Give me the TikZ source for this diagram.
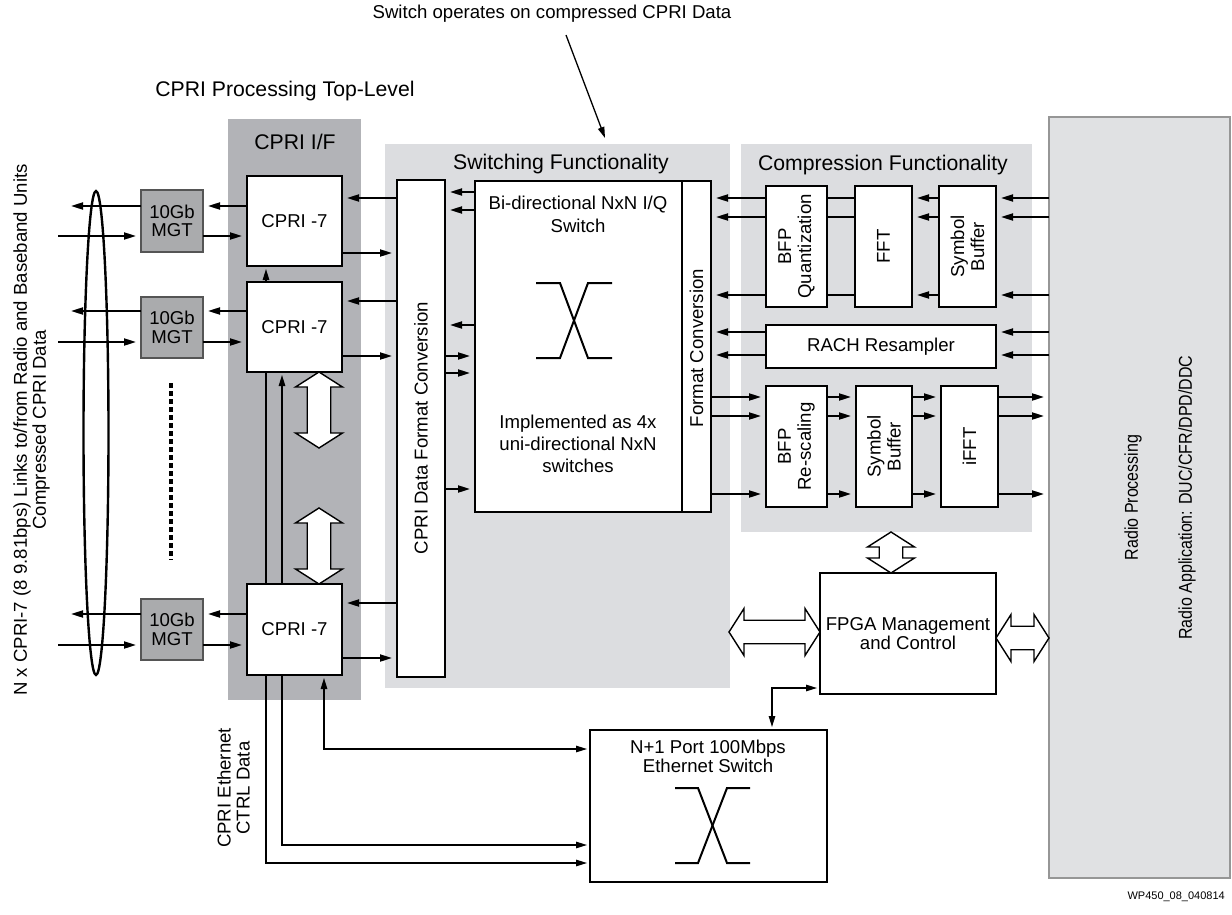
\documentclass[tikz,border=0pt]{standalone}
\usepackage{fontspec}
\setmainfont{Liberation Sans}
\newfontfamily\narrowfont[FakeStretch=0.86]{Liberation Sans}
\usetikzlibrary{arrows.meta,calc}
\definecolor{cpribg}{RGB}{178,179,183}
\definecolor{lightbg}{RGB}{220,221,224}
\definecolor{mgtfill}{RGB}{170,171,173}
\definecolor{mgtline}{RGB}{85,85,85}
\definecolor{radiofill}{RGB}{224,225,227}
\definecolor{radioline}{RGB}{150,150,150}
\newcommand{\fsN}{\fontsize{18.6}{20}\selectfont}
\newcommand{\fsH}{\fontsize{21.2}{24}\selectfont}
\newcommand{\hollowV}[2]{%
  \draw[hollow] let \p1=#1, \p2=#2 in
   (\x1,\y1) -- (\x1+23.5pt,\y1-15pt) -- (\x1+11.75pt,\y1-15pt) -- (\x1+11.75pt,\y2+15pt)
   -- (\x1+23.5pt,\y2+15pt) -- (\x1,\y2) -- (\x1-23.5pt,\y2+15pt) -- (\x1-11.75pt,\y2+15pt)
   -- (\x1-11.75pt,\y1-15pt) -- (\x1-23.5pt,\y1-15pt) -- cycle;}
\newcommand{\hollowH}[2]{%
  \draw[hollow] let \p1=#1, \p2=#2 in
   (\x1,\y1) -- (\x1+15pt,\y1+23.5pt) -- (\x1+15pt,\y1+11.75pt) -- (\x2-15pt,\y1+11.75pt)
   -- (\x2-15pt,\y1+23.5pt) -- (\x2,\y1) -- (\x2-15pt,\y1-23.5pt) -- (\x2-15pt,\y1-11.75pt)
   -- (\x1+15pt,\y1-11.75pt) -- (\x1+15pt,\y1-23.5pt) -- cycle;}
\pgfdeclarelayer{back}
\pgfdeclarelayer{mid}
\pgfsetlayers{back,mid,main}
\begin{document}
\begin{tikzpicture}[x=1pt,y=-1pt,
  bgnode/.style={inner sep=0,outer sep=0,draw=none},
  box/.style={draw,line width=2.6pt,fill=white,inner sep=0,outer sep=0,font=\fsN,align=center},
  mgtbox/.style={draw=mgtline,line width=2pt,fill=mgtfill,inner sep=0,outer sep=0,font=\fontsize{18.6}{18.5}\selectfont,align=center},
  arr/.style={line width=2pt,-{Triangle[length=12pt,width=7pt]},shorten >=5pt},
  conn/.style={line width=2pt},
  thinarr/.style={line width=1.3pt,{Triangle[length=11pt,width=6.5pt]}-{Triangle[length=11pt,width=6.5pt]},shorten >=3pt,shorten <=3pt},
  hollow/.style={draw,line width=1.4pt,fill=white,line join=miter},
  xsym/.style={line width=2pt},
  txt/.style={font=\fsN,align=center,inner sep=0},
  hdr/.style={font=\fsH,inner sep=0},
]
\useasboundingbox (0,0) rectangle (1232,915);

% backgrounds
\begin{pgfonlayer}{back}
\node[bgnode,fill=cpribg,minimum width=133pt,minimum height=581pt] (cpribg) at (294.5,409.5) {};
\node[bgnode,fill=lightbg,minimum width=345pt,minimum height=544pt] (swbg) at (557.5,416) {};
\node[bgnode,fill=lightbg,minimum width=291pt,minimum height=388pt] (compbg) at (886.5,338) {};
\node[draw=radioline,line width=1.6pt,fill=radiofill,inner sep=0,outer sep=0,minimum width=181pt,minimum height=761pt] (radio) at (1139.5,497.5) {};
\end{pgfonlayer}

% ellipse and dots
\draw[line width=2.4pt] (96,433) ellipse [x radius=12.5pt, y radius=242pt];
\draw[line width=4pt, dash pattern=on 4.5pt off 3.5pt] (171,383) -- (171,560);

% MGT
\node[mgtbox,minimum width=62pt,minimum height=62pt] (mgt1) at (172,221) {10Gb\\MGT};
\node[mgtbox,minimum width=62pt,minimum height=61pt] (mgt2) at (172,327.5) {10Gb\\MGT};
\node[mgtbox,minimum width=62pt,minimum height=61pt] (mgt3) at (172,629.5) {10Gb\\MGT};

% CPRI boxes
\node[box,minimum width=95pt,minimum height=90pt] (cpri1) at (294.5,221) {CPRI -7};
\node[box,minimum width=95pt,minimum height=90pt] (cpri2) at (294.5,327) {CPRI -7};
\node[box,minimum width=95pt,minimum height=91pt] (cpri3) at (294.5,629.5) {CPRI -7};

% format conversion and switch
\node[box,minimum width=48pt,minimum height=497pt] (fc) at (421,428.5) {};
\node[box,minimum width=236pt,minimum height=331pt] (sw) at (593,346.5) {};
\draw[line width=1.5pt] (sw.north -| 682,0) -- (sw.south -| 682,0);

% compression blocks
\node[box,minimum width=61pt,minimum height=121pt] (bfpq) at (796.5,246.5) {};
\node[box,minimum width=57pt,minimum height=121pt] (fft) at (883.5,246.5) {};
\node[box,minimum width=57pt,minimum height=121pt] (sb1) at (967.5,246.5) {};
\node[box,minimum width=230pt,minimum height=43pt] (rach) at (881,346.5) {RACH Resampler};
\node[box,minimum width=61pt,minimum height=121pt] (bfpr) at (796.5,446.5) {};
\node[box,minimum width=56pt,minimum height=121pt] (sb2) at (884,446.5) {};
\node[box,minimum width=57pt,minimum height=121pt] (ifft) at (969.5,446.5) {};

% FPGA and Ethernet
\node[box,font=\fontsize{18.6}{19}\selectfont,minimum width=176pt,minimum height=121pt] (fpga) at (908,633.5) {FPGA Management\\and Control};
\node[box,minimum width=237pt,minimum height=152pt] (eth) at (708.5,806) {};

% X symbols
\draw[xsym] (536,283) -- (560,283) -- (588,358) -- (612,358);
\draw[xsym] (612,283) -- (588,283) -- (560,358) -- (536,358);
\draw[xsym] (675,788) -- (698,788) -- (727,863) -- (750,863);
\draw[xsym] (750,788) -- (727,788) -- (698,863) -- (675,863);

% texts
\node[hdr] (title) at (285,91) {CPRI Processing Top-Level};
\node[hdr] (cprihdr) at (295,142) {CPRI I/F};
\node[hdr] (swhdr) at (561,164) {Switching Functionality};
\node[hdr] (comphdr) at (883,165) {Compression Functionality};
\node[txt] (note) at (552,14) {Switch operates on compressed CPRI Data};
\node[txt,font=\fontsize{18.6}{23}\selectfont] (swt1) at (578,214.5) {Bi-directional NxN I/Q\\Switch};
\node[txt,font=\fontsize{18.6}{22}\selectfont] (swt2) at (578,444) {Implemented as 4x\\uni-directional NxN\\switches};
\node[txt,rotate=90] (fct) at (696.5,348) {Format Conversion};
\node[txt,rotate=90] (fcbig) at (421,428) {CPRI Data Format Conversion};
\node[txt,rotate=90] (bfpqt) at (bfpq) {BFP\\Quantization};
\node[txt,rotate=90] (fftt) at (fft) {FFT};
\node[txt,rotate=90] (sb1t) at (sb1) {Symbol\\Buffer};
\node[txt,rotate=90] (bfprt) at (bfpr) {BFP\\Re-scaling};
\node[txt,rotate=90] (sb2t) at (sb2) {Symbol\\Buffer};
\node[txt,rotate=90] (ifftt) at (ifft) {iFFT};
\node[txt,font=\fontsize{18.6}{19}\selectfont] (etht) at (708,756.5) {N+1 Port 100Mbps\\Ethernet Switch};
\node[txt,rotate=90,font=\fontsize{18.6}{19}\selectfont] (lefttxt) at (31.5,430) {N x CPRI-7 (8 9.81bps) Links to/from Radio and Baseband Units\\Compressed CPRI Data};
\node[txt,rotate=90,font=\fontsize{18.6}{19}\selectfont] (ethtxt) at (233.5,788) {CPRI Ethernet\\CTRL Data};
\node[rotate=90,align=center,inner sep=0,font=\narrowfont\fontsize{18.6}{20}\selectfont] (radiot) at (1160,497.5) {Radio Processing\\[34pt]Radio Application: DUC/CFR/DPD/DDC};
\node[inner sep=0,font=\fontsize{11}{13}\selectfont,anchor=east] (wp) at (1225,897) {WP450\_08\_040814};

% annotation arrow
\coordinate (noteS) at (566,35);
\coordinate (noteT) at (605,138);
\draw[line width=1.3pt,-{Triangle[length=11pt,width=6.5pt]}] (noteS) -- (noteT);

% MGT arrows
\draw[arr] (mgt1.west |- 0,206) -- (66,206);
\draw[arr] (58,236) -- (mgt1.west |- 0,236);
\draw[arr] (cpri1.west |- 0,206) -- (mgt1.east |- 0,206);
\draw[arr] (mgt1.east |- 0,236) -- (cpri1.west |- 0,236);
\draw[arr] (mgt2.west |- 0,311) -- (66,311);
\draw[arr] (58,342) -- (mgt2.west |- 0,342);
\draw[arr] (cpri2.west |- 0,311) -- (mgt2.east |- 0,311);
\draw[arr] (mgt2.east |- 0,342) -- (cpri2.west |- 0,342);
\draw[arr] (mgt3.west |- 0,614) -- (66,614);
\draw[arr] (58,645) -- (mgt3.west |- 0,645);
\draw[arr] (cpri3.west |- 0,614) -- (mgt3.east |- 0,614);
\draw[arr] (mgt3.east |- 0,645) -- (cpri3.west |- 0,645);

% CPRI - FC
\draw[arr] (fc.west |- 0,198) -- (cpri1.east |- 0,198);
\draw[arr] (cpri1.east |- 0,253) -- (fc.west |- 0,253);
\draw[arr] (fc.west |- 0,301) -- (cpri2.east |- 0,301);
\draw[arr] (cpri2.east |- 0,356) -- (fc.west |- 0,356);
\draw[arr] (fc.west |- 0,603) -- (cpri3.east |- 0,603);
\draw[arr] (cpri3.east |- 0,658) -- (fc.west |- 0,658);

% FC - switch
\foreach \yy in {192,210,325} \draw[arr] (sw.west |- 0,\yy) -- (fc.east |- 0,\yy);
\foreach \yy in {356,373,489} \draw[arr] (fc.east |- 0,\yy) -- (sw.west |- 0,\yy);

% compression
\foreach \yy in {198,217,295} {
  \draw[arr] (bfpq.west |- 0,\yy) -- (sw.east |- 0,\yy);
  \draw[conn] (bfpq.east |- 0,\yy) -- (fft.west |- 0,\yy);
  \draw[arr] (sb1.west |- 0,\yy) -- (fft.east |- 0,\yy);
  \draw[arr] (radio.west |- 0,\yy) -- (sb1.east |- 0,\yy);
}
\foreach \yy in {332,355} {
  \draw[arr] (rach.west |- 0,\yy) -- (sw.east |- 0,\yy);
  \draw[arr] (radio.west |- 0,\yy) -- (rach.east |- 0,\yy);
}
\foreach \yy in {397,416,494} {
  \draw[arr] (sw.east |- 0,\yy) -- (bfpr.west |- 0,\yy);
  \draw[arr] (bfpr.east |- 0,\yy) -- (sb2.west |- 0,\yy);
  \draw[arr] (sb2.east |- 0,\yy) -- (ifft.west |- 0,\yy);
  \draw[arr] (ifft.east |- 0,\yy) -- (radio.west |- 0,\yy);
}

% ethernet lines (behind boxes)
\begin{pgfonlayer}{mid}
\draw[thinarr] (cpri1.south -| 266,0) |- (eth.west |- 0,863);
\draw[thinarr] (cpri2.south -| 282,0) |- (eth.west |- 0,845);
\draw[thinarr] (cpri3.south -| 324,0) |- (eth.west |- 0,749);
\end{pgfonlayer}
\draw[thinarr] (eth.north -| 772,0) |- (fpga.west |- 0,688);

% hollow double arrows
\coordinate (hA) at (319,448);
\coordinate (hB) at (319,508);
\coordinate (hC) at (729,632);
\hollowV{(cpri2.south -| 319,0)}{(hA)}
\hollowV{(hB)}{(cpri3.north -| 319,0)}
\hollowV{(compbg.south -| 891,0)}{(fpga.north -| 891,0)}
\hollowH{(hC)}{(fpga.west |- 0,632)}
\hollowH{(fpga.east |- 0,638)}{(radio.west |- 0,638)}
\end{tikzpicture}
\end{document}
